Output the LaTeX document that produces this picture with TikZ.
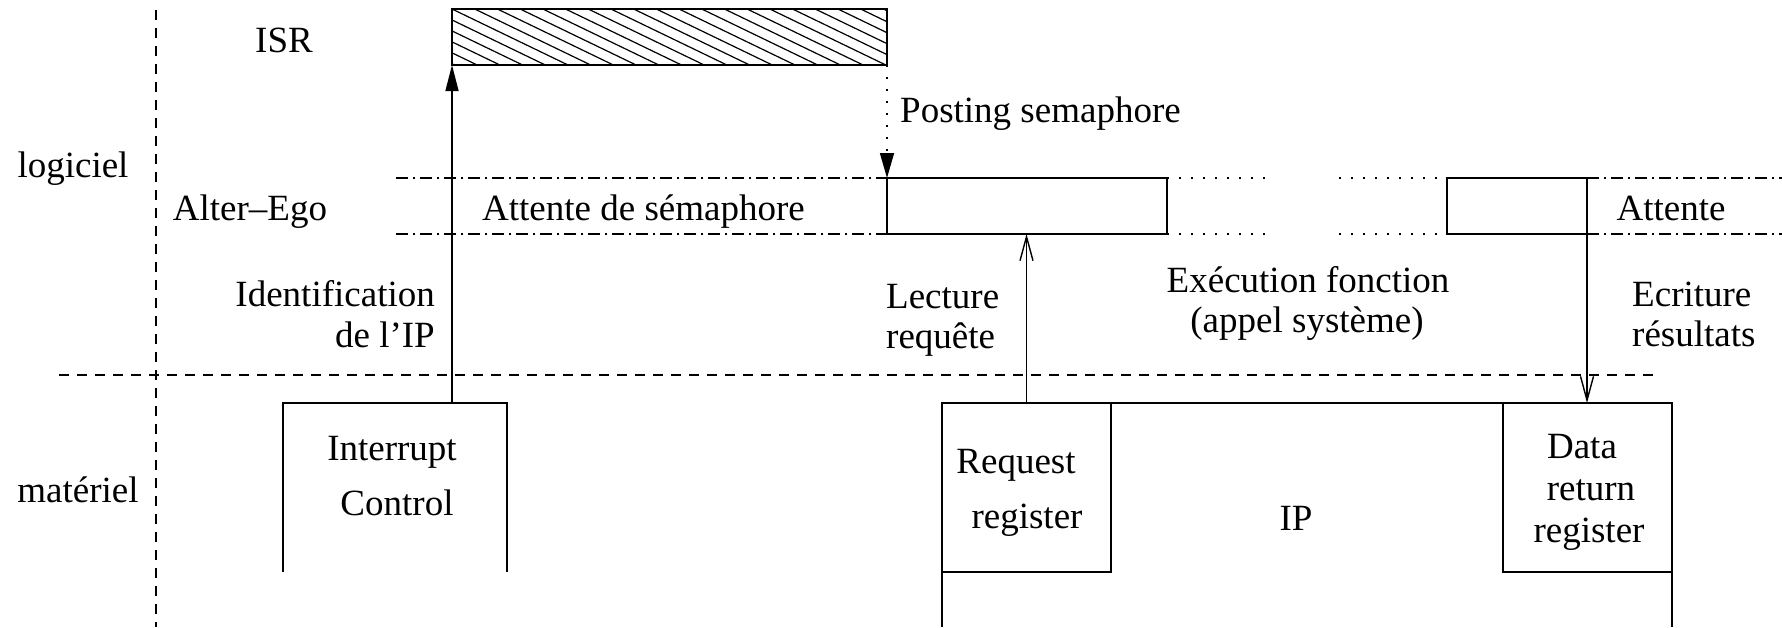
\documentclass[tikz,border=0pt]{standalone}
\usepackage{fontspec}
\setmainfont{Liberation Serif}
\usetikzlibrary{arrows.meta}

\begin{document}
\begin{tikzpicture}[x=1pt, y=-1pt,
  lbl/.style={font=\fontsize{37}{41}\selectfont, inner sep=0pt},
  thinline/.style={line width=1.4pt},
  thickline/.style={line width=2.6pt},
  sepline/.style={line width=1.4pt, dash pattern=on 10pt off 8pt},
  egoline/.style={line width=1.4pt, dash pattern=on 12pt off 5pt on 2pt off 5pt},
  dotline/.style={line width=1.6pt, dash pattern=on 1.8pt off 10.2pt},
  frame/.style={inner sep=0pt, outer sep=0pt, minimum width=#1},
  hatchbox/.style={draw, line width=2pt, inner sep=0pt, outer sep=0pt,
    path picture={
      \foreach \k in {-6,...,20}
        \draw[line width=1.2pt]
          ([xshift=\k*22.7pt]path picture bounding box.north west) -- ++(116pt,-56pt);
    }},
  egobox/.style={draw, thinline, inner sep=0pt, outer sep=0pt, minimum height=56pt},
  regbox/.style={draw, thickline, inner sep=0pt, outer sep=0pt,
    minimum width=169pt, minimum height=169pt},
  solidtip/.style={-{Triangle[length=26pt,width=13pt]}},
  barbtip/.style={-{Straight Barb[length=24pt,width=13pt]}}
]
\useasboundingbox (0,0) rectangle (1782,627);

% layer separators
\draw[sepline] (156,10) -- (156,627);
\draw[sepline] (59,375) -- (1656,375);

% software side: interrupt service routine and the Alter-Ego task
\node[hatchbox, minimum width=435pt, minimum height=56pt] (isr) at (669.5,37) {};
\node[egobox, minimum width=280pt] (ae1) at (1027,206) {};
\node[egobox, minimum width=140pt] (ae2) at (1517,206) {};

\draw[egoline] (396,178) -- (ae1.north west);
\draw[egoline] (396,234) -- (ae1.south west);
\draw[dotline] (ae1.north east) -- (1273,178);
\draw[dotline] (ae1.south east) -- (1273,234);
\draw[dotline] (1339,178) -- (ae2.north west);
\draw[dotline] (1339,234) -- (ae2.south west);
\draw[egoline] (ae2.north east) -- (1782,178);
\draw[egoline] (ae2.south east) -- (1782,234);

% hardware side
\node[frame=224pt, minimum height=169pt] (intc) at (395,487.5) {};
\draw[thickline] (intc.south west) -- (intc.north west) -- (intc.north east) -- (intc.south east);

\node[frame=730pt, minimum height=224pt] (ip) at (1307,515) {};
\draw[thickline] (ip.south west) -- (ip.north west) -- (ip.north east) -- (ip.south east);

\node[regbox] (rq) at (1026.5,487.5) {};
\node[regbox] (dr) at (1587.5,487.5) {};

% connectors
\draw[thinline, solidtip] (isr.south west |- intc.north) -- (isr.south west);
\draw[dotline, -{Triangle[length=25pt,width=14pt]}] (isr.south east) -- (isr.south east |- ae1.north);
\draw[thinline, barbtip] (rq.north) -- (rq.north |- ae1.south);
\draw[thinline, barbtip] (ae2.north east) -- (ae2.north east |- dr.north);

% labels
\node[lbl, anchor=base] (tisr) at (284,52) {ISR};
\node[lbl, anchor=base] (tlog) at (73,177) {logiciel};
\node[lbl, anchor=base] (tmat) at (78,502) {matériel};
\node[lbl, anchor=base] (tae) at (250,220) {Alter--Ego};
\node[lbl, anchor=base] (twait) at (643.5,220) {Attente de sémaphore};
\node[lbl, anchor=base west] (tpost) at (900,122) {Posting semaphore};
\node[lbl, anchor=base east] (tid1) at (435,306) {Identification};
\node[lbl, anchor=base east] (tid2) at (435,347) {de l’IP};
\node[lbl, anchor=base west] (tlec1) at (886,308) {Lecture};
\node[lbl, anchor=base west] (tlec2) at (886,348) {requête};
\node[lbl, anchor=base] (tex1) at (1308,292) {Exécution fonction};
\node[lbl, anchor=base] (tex2) at (1307,332) {(appel système)};
\node[lbl, anchor=base west] (tecr1) at (1632,306) {Ecriture};
\node[lbl, anchor=base west] (tecr2) at (1632,346) {résultats};
\node[lbl, anchor=base] (tatt) at (1671,220) {Attente};
\node[lbl, anchor=base] (tic1) at (392,460) {Interrupt};
\node[lbl, anchor=base] (tic2) at (397,515) {Control};
\node[lbl, anchor=base] (trq1) at (1016,473) {Request};
\node[lbl, anchor=base] (trq2) at (1027,528) {register};
\node[lbl, anchor=base] (tip) at (1296,530) {IP};
\node[lbl, anchor=base] (tdr1) at (1582,458) {Data};
\node[lbl, anchor=base] (tdr2) at (1591,500) {return};
\node[lbl, anchor=base] (tdr3) at (1589,542) {register};
\end{tikzpicture}
\end{document}
